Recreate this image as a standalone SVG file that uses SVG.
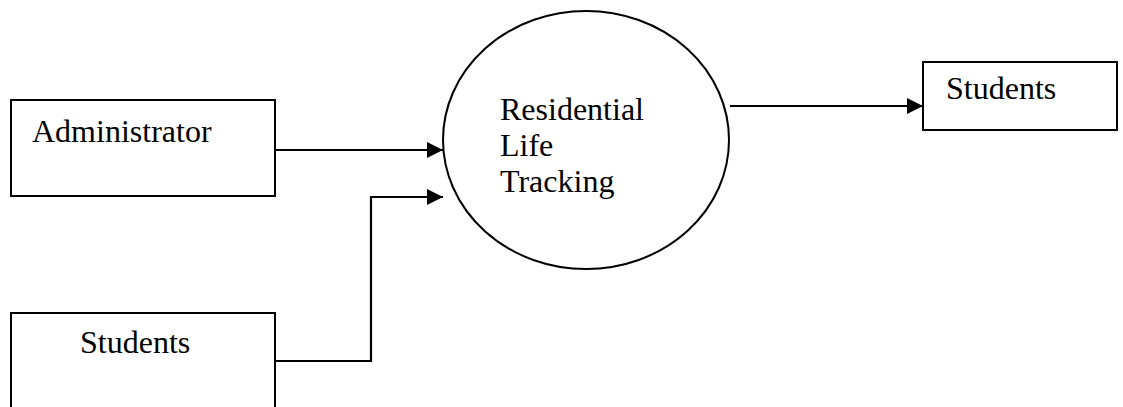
<svg xmlns="http://www.w3.org/2000/svg" width="1123" height="407" viewBox="0 0 1123 407">
<style>
.box{fill:#fff;stroke:#000;stroke-width:2}
.lbl{font-family:"Liberation Serif","Times New Roman",serif;font-size:32px;fill:#000}
.conn{fill:none;stroke:#000;stroke-width:2.2}
</style>
<defs>
<marker id="arr" markerUnits="userSpaceOnUse" markerWidth="18" markerHeight="16" refX="16" refY="8" orient="auto">
<path d="M0,0 L16,8 L0,16 Z" fill="#000"/>
</marker>
</defs>
<rect width="1123" height="407" fill="#fff"/>
<g id="administrator">
<rect class="box" x="11" y="100" width="264" height="96"/>
<text class="lbl" x="32" y="142">Administrator</text>
</g>
<g id="students-source">
<rect class="box" x="11" y="313" width="264" height="110"/>
<text class="lbl" x="80" y="353">Students</text>
</g>
<g id="process">
<ellipse class="box" cx="586" cy="140" rx="143" ry="129"/>
<text class="lbl" x="500" y="120">Residential</text>
<text class="lbl" x="500" y="156">Life</text>
<text class="lbl" x="500" y="192">Tracking</text>
</g>
<g id="students-sink">
<rect class="box" x="923" y="62" width="194" height="68"/>
<text class="lbl" x="946" y="99">Students</text>
</g>
<g id="connectors">
<path class="conn" d="M275,150 L443,150" marker-end="url(#arr)"/>
<path class="conn" d="M275,361 L371,361 L371,197 L443,197" marker-end="url(#arr)"/>
<path class="conn" d="M730,106 L923,106" marker-end="url(#arr)"/>
</g>
</svg>
